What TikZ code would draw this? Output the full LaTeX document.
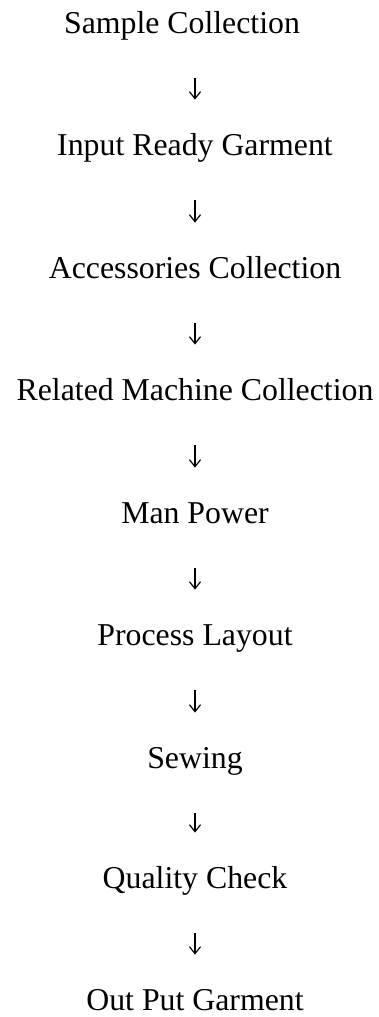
\documentclass[tikz,border=0pt]{standalone}
\usepackage{fontspec}
\setmainfont{Liberation Serif}
\usetikzlibrary{arrows.meta}

\tikzset{
  steptext/.style={inner sep=0pt, text height=10.5pt, text depth=0pt, anchor=base, font=\fontsize{15.9pt}{18pt}\selectfont},
  flow/.style={line width=0.6pt, -{Straight Barb[length=3.5pt,width=5.6pt]}, shorten <=22.5pt, shorten >=17pt}
}

\begin{document}
\begin{tikzpicture}[x=0.5pt,y=-0.5pt]
\useasboundingbox (0,0) rectangle (379,1017);

\node [steptext] (s1) at (182,33) {Sample Collection};
\node [steptext] (s2) at (195,155) {Input Ready Garment};
\node [steptext] (s3) at (195,278) {Accessories Collection};
\node [steptext] (s4) at (195,400) {Related Machine Collection};
\node [steptext] (s5) at (195,523) {Man Power};
\node [steptext] (s6) at (195,645) {Process Layout};
\node [steptext] (s7) at (195,768) {Sewing};
\node [steptext] (s8) at (195,888) {Quality Check};
\node [steptext] (s9) at (195,1010) {Out Put Garment};

\draw [flow] (s1.south -| s2.north) -- (s2.north);
\foreach \a/\b in {s2/s3,s3/s4,s4/s5,s5/s6,s6/s7,s7/s8,s8/s9}
  \draw [flow] (\a) -- (\b);
\end{tikzpicture}
\end{document}
